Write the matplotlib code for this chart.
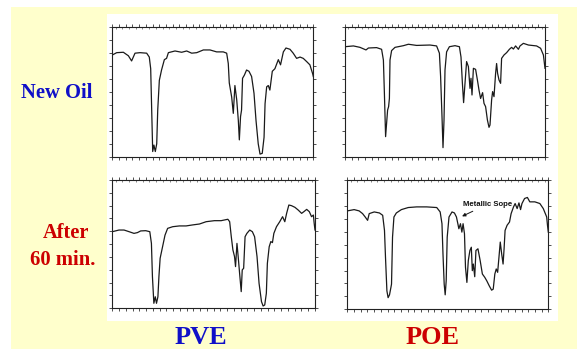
import matplotlib
matplotlib.use("Agg")
import matplotlib.pyplot as plt
from matplotlib.patches import Rectangle
import numpy as np

W, H = 577, 349

# ---------------- data (position across chart in %, transmittance %) ----------------
pve_new_x = [0, 2.2, 5.5, 8.0, 9.6, 11.3, 13.8, 17.1, 18.4, 19.1, 19.6, 20.1, 20.7, 21.4, 22.1,
             22.6, 23.4, 24.5, 25.9, 27.0, 27.9, 31.2, 34.5, 37.0, 39.5, 42.0, 45.3, 48.6, 51.9,
             55.2, 56.9, 57.7, 58.2, 59.4, 60.2, 61.0, 61.9, 62.7, 63.2, 63.8, 64.3, 64.8, 65.7,
             66.8, 68.0, 69.3, 70.5, 71.5, 72.6, 73.5, 74.6, 75.5, 76.0, 76.8, 77.6, 78.4, 79.6,
             80.9, 82.6, 83.7, 85.1, 86.4, 88.4, 90.0, 91.7, 93.4, 95.0, 96.7, 98.3, 99.7, 100]
pve_new_t = [78.6, 80.4, 80.7, 78.0, 74.0, 80.0, 80.4, 80.0, 77.0, 68.0, 36.0, 4.0, 9.0, 4.0, 10.0,
             36.0, 59.0, 67.0, 75.0, 76.0, 80.4, 81.7, 80.7, 81.7, 80.0, 80.4, 82.5, 82.5, 81.0,
             81.0, 80.0, 72.0, 57.0, 46.0, 33.5, 55.0, 44.0, 28.0, 13.0, 31.0, 36.0, 60.6, 63.0,
             67.0, 66.0, 62.0, 49.0, 28.0, 10.0, 2.0, 2.6, 15.0, 41.0, 54.0, 55.0, 51.5, 66.0,
             68.0, 75.0, 71.0, 81.0, 84.0, 83.0, 80.0, 76.0, 77.0, 76.0, 73.5, 71.0, 64.0, 62.0]

poe_new_x = [0, 4.2, 7.5, 10.5, 11.7, 15.8, 18.3, 19.2, 19.7, 20.3, 20.8, 21.3, 21.8, 22.2, 22.5,
             23.3, 25.0, 29.2, 31.7, 35.8, 42.5, 45.8, 47.2, 47.8, 48.5, 49.0, 49.5, 50.0, 50.8,
             52.2, 55.0, 57.2, 58.0, 58.7, 59.3, 60.0, 60.8, 61.7, 62.5, 63.0, 63.5, 64.2, 65.3,
             66.2, 67.0, 67.8, 68.8, 69.5, 70.3, 71.2, 72.0, 72.5, 73.3, 73.8, 74.5, 75.3, 75.8,
             76.3, 77.0, 77.8, 78.3, 79.5, 80.8, 82.2, 83.3, 84.2, 85.3, 86.7, 87.5, 89.2, 91.7,
             95.8, 97.8, 99.2, 100]
poe_new_t = [85.0, 85.6, 84.5, 82.5, 84.0, 84.3, 83.0, 74.7, 49.0, 15.5, 25.8, 36.0, 38.7, 45.0, 74.7,
             82.0, 84.5, 85.8, 86.9, 86.0, 86.3, 85.6, 80.0, 62.0, 31.0, 7.0, 28.0, 67.0, 81.0,
             85.0, 85.8, 85.0, 77.0, 56.7, 41.8, 56.7, 73.5, 69.6, 52.8, 60.6, 47.7, 68.3, 67.5,
             59.3, 51.5, 45.0, 49.5, 41.2, 38.7, 28.4, 22.7, 24.5, 43.8, 50.3, 46.4, 64.4, 72.0,
             64.4, 59.3, 56.7, 76.0, 78.6, 80.4, 83.0, 84.5, 83.2, 85.6, 83.0, 85.6, 87.6, 86.3,
             85.6, 83.8, 78.6, 68.3]

pve_old_x = [0, 3.3, 5.8, 8.3, 10.7, 12.4, 14.0, 16.5, 18.5, 19.3, 19.8, 20.5, 21.2, 21.8, 22.5,
             23.0, 23.6, 24.8, 26.0, 27.3, 29.8, 33.1, 36.4, 39.7, 43.0, 46.3, 50.4, 53.7, 57.0,
             57.9, 58.7, 59.5, 60.3, 60.8, 61.5, 62.1, 62.8, 63.6, 64.1, 64.8, 65.5, 66.4, 67.8,
             69.1, 70.2, 71.4, 72.4, 73.6, 74.4, 75.2, 76.0, 76.5, 77.4, 78.2, 79.0, 79.7, 81.0,
             82.6, 84.0, 85.1, 86.0, 87.1, 88.4, 90.1, 91.7, 93.4, 94.5, 95.9, 97.2, 98.3, 99.2,
             99.6, 100]
pve_old_t = [59.7, 61.0, 61.0, 59.7, 58.4, 59.0, 60.3, 60.5, 59.7, 50.6, 24.7, 3.9, 9.0, 3.9, 9.0,
             24.7, 39.0, 48.0, 57.0, 62.3, 63.6, 64.2, 64.2, 65.0, 65.7, 67.5, 68.3, 68.3, 69.4,
             67.5, 55.8, 45.5, 40.3, 32.5, 50.6, 40.3, 27.3, 13.0, 29.9, 31.2, 55.8, 58.4, 61.0,
             59.7, 55.8, 40.3, 19.5, 5.2, 1.8, 2.6, 11.7, 35.0, 48.0, 52.0, 51.2, 58.4, 63.6,
             67.5, 71.4, 67.5, 74.0, 80.5, 80.0, 78.7, 76.6, 74.0, 75.3, 77.1, 75.3, 71.4, 72.7,
             66.2, 61.0]

poe_old_x = [0, 3.4, 5.9, 7.6, 8.9, 10.1, 10.9, 13.4, 16.0, 17.6, 18.5, 19.0, 19.7, 20.3, 21.0,
             21.7, 22.0, 22.5, 23.2, 24.4, 26.9, 30.3, 34.5, 39.5, 44.5, 46.2, 47.1, 47.6, 48.2,
             48.7, 49.2, 49.7, 50.6, 52.1, 53.3, 54.3, 55.0, 55.5, 56.3, 57.0, 57.6, 58.3, 58.8,
             59.5, 60.2, 61.0, 61.7, 62.2, 62.7, 63.4, 64.0, 65.0, 66.1, 67.2, 68.4, 69.4, 70.6,
             71.8, 72.6, 73.4, 74.1, 74.8, 75.6, 76.1, 76.8, 77.5, 78.0, 78.5, 79.5, 80.7, 81.5,
             82.7, 83.5, 84.5, 85.4, 86.2, 86.9, 88.2, 89.6, 90.8, 93.3, 95.8, 97.5, 99.2, 99.6,
             100]
poe_old_t = [76.1, 77.1, 76.1, 74.0, 71.4, 68.8, 74.0, 75.3, 74.5, 72.7, 61.0, 40.3, 14.3, 9.0, 11.2,
             16.9, 19.5, 55.8, 71.4, 74.5, 77.1, 78.7, 79.2, 79.2, 78.7, 75.3, 66.2, 42.9, 19.5,
             11.2, 22.0, 55.8, 71.4, 75.3, 74.5, 71.4, 66.2, 62.3, 66.2, 59.7, 66.2, 58.4, 32.5,
             20.8, 37.7, 45.5, 48.0, 29.9, 35.0, 25.2, 45.5, 46.8, 37.7, 27.3, 24.7, 22.0, 18.2,
             14.8, 15.6, 27.3, 31.2, 28.6, 42.9, 52.0, 42.9, 35.0, 46.8, 61.0, 65.0, 67.5, 74.0,
             79.2, 81.8, 77.9, 82.3, 77.1, 81.8, 85.7, 86.5, 83.1, 83.1, 81.8, 77.9, 71.4, 64.9,
             59.7]

row_labels = ["New Oil", "After\n60 min."]
col_labels = ["PVE", "POE"]
note_text = "Metallic Sope"

# ---------------- figure ----------------
fig = plt.figure(figsize=(W / 100, H / 100), dpi=100)
fig.patch.set_facecolor("white")


def px_rect(x0, y0, x1, y1):
    return [x0 / W, 1 - y1 / H, (x1 - x0) / W, (y1 - y0) / H]


# pale yellow slide background
bg = px_rect(11, 7, 577, 349)
fig.patches.append(Rectangle((bg[0], bg[1]), bg[2], bg[3], transform=fig.transFigure,
                             facecolor="#FFFFCC", edgecolor="none", zorder=0))
# white scanned panel
wp = px_rect(107, 14, 558, 321)
fig.patches.append(Rectangle((wp[0], wp[1]), wp[2], wp[3], transform=fig.transFigure,
                             facecolor="white", edgecolor="none", zorder=0.5))

boxes = {
    "tl": px_rect(112.3, 27.3, 313.3, 156.7),
    "tr": px_rect(345.0, 27.3, 545.0, 156.7),
    "bl": px_rect(112.3, 180.0, 315.0, 308.3),
    "br": px_rect(347.3, 180.0, 548.3, 309.3),
}
series = {
    "tl": (pve_new_x, pve_new_t),
    "tr": (poe_new_x, poe_new_t),
    "bl": (pve_old_x, pve_old_t),
    "br": (poe_old_x, poe_old_t),
}

axes = {}
for key, rect in boxes.items():
    ax = fig.add_axes(rect)
    ax.set_zorder(3)
    ax.set_facecolor("white")
    x, t = series[key]
    ax.plot(x, t, color="#1a1a1a", lw=0.9, solid_joinstyle="round")
    ax.set_xlim(0, 100)
    ax.set_ylim(0, 100)
    for s in ax.spines.values():
        s.set_color("#222222")
        s.set_linewidth(0.8)
    ax.set_xticks(np.linspace(0, 100, 31))
    ax.set_yticks(np.linspace(0, 100, 11))
    ax.set_xticks(np.linspace(0, 100, 61), minor=True)
    ax.tick_params(axis="both", which="major", length=2.0, width=0.6, color="#333333",
                   direction="out", top=True, right=True, labelbottom=False, labelleft=False)
    ax.tick_params(axis="x", which="minor", length=1.2, width=0.5, color="#555555",
                   direction="in", top=True, bottom=False)
    axes[key] = ax

# annotation on the POE after-use spectrum
axes["br"].annotate(note_text, xy=(57.1, 71.9), xytext=(57.4, 80.0),
                    fontsize=5.6, fontweight="bold", family=["Liberation Sans", "DejaVu Sans"],
                    ha="left", va="baseline", color="#111111",
                    arrowprops=dict(arrowstyle="-|>", lw=0.7, color="#111111",
                                    mutation_scale=5, shrinkA=1, shrinkB=0))

serif = ["Liberation Serif", "DejaVu Serif"]
blue = "#1010C8"
red = "#CC0000"

fig.text(56.7 / W, 1 - 97.7 / H, row_labels[0], ha="center", va="baseline",
         fontsize=14.9, fontweight="bold", family=serif, color=blue)
after, sixty = row_labels[1].split("\n")
fig.text(66.3 / W, 1 - 237.7 / H, after, ha="center", va="baseline",
         fontsize=14.7, fontweight="bold", family=serif, color=red)
fig.text(62.2 / W, 1 - 265.0 / H, sixty, ha="center", va="baseline",
         fontsize=14.9, fontweight="bold", family=serif, color=red)

fig.text(200.5 / W, 1 - 343.5 / H, col_labels[0], ha="center", va="baseline",
         fontsize=19.0, fontweight="bold", family=serif, color=blue)
fig.text(432.5 / W, 1 - 343.5 / H, col_labels[1], ha="center", va="baseline",
         fontsize=19.0, fontweight="bold", family=serif, color=red)

fig.savefig("out.png", dpi=100, facecolor=fig.get_facecolor())
